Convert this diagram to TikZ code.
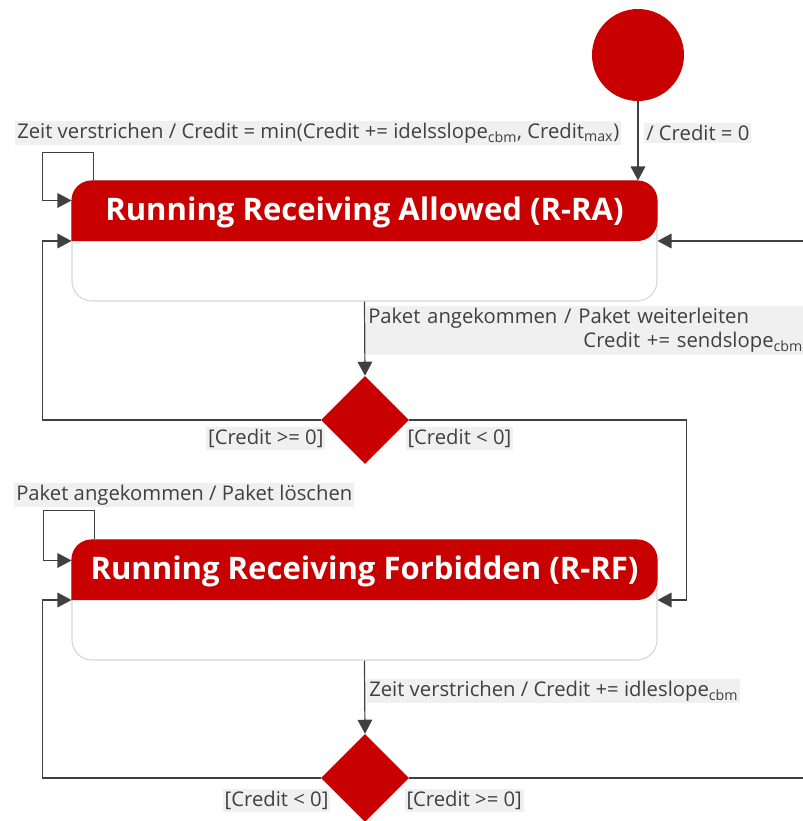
\documentclass[tikz,border=0pt]{standalone}
\usepackage{fontspec}
\setmainfont{Open Sans}
\usepackage{tikz}
\usetikzlibrary{arrows.meta,positioning,shapes.geometric,calc}
\definecolor{StateRed}{RGB}{200,0,0}
\definecolor{LabelGray}{RGB}{240,240,240}
\definecolor{LineGray}{RGB}{64,64,64}
\definecolor{BorderGray}{RGB}{214,214,214}

\begin{document}
\begin{tikzpicture}[
  x=0.75pt, y=-0.75pt,
  state/.style={
    draw=BorderGray,
    rounded corners=15pt,
    fill=white,
    minimum width=438.75pt,
    minimum height=90pt,
    line width=0.8pt
  },
  title/.style={
    text=white,
    font=\fontsize{23.3}{26}\selectfont\bfseries,
    inner sep=0pt
  },
  initial/.style={
    circle,
    fill=StateRed,
    minimum size=69pt,
    inner sep=0pt
  },
  choice/.style={
    diamond,
    fill=StateRed,
    minimum size=66pt,
    inner sep=0pt
  },
  arrow/.style={-{Triangle[length=10.5pt,width=11pt]}, draw=LineGray, line width=0.9pt},
  trans/.style={fill=LabelGray, text=LineGray, inner sep=1.5pt, align=left,
    font=\fontsize{15.2}{18}\selectfont}
]
\useasboundingbox (0,0) rectangle (803,821);

\node[initial] (start) at (638,55) {};

\node[state] (ra) at (364.5,241) {};
\fill[StateRed] (ra.west) [rounded corners=15pt] |- (ra.north) -| (ra.east) [sharp corners] -- cycle;
\node[title] (ra title) at ($(ra.north)!0.5!(ra.center)+(0,2)$) {Running Receiving Allowed (R-RA)};

\node[state] (rf) at (364.5,600) {};
\fill[StateRed] (rf.west) [rounded corners=15pt] |- (rf.north) -| (rf.east) [sharp corners] -- cycle;
\node[title] (rf title) at ($(rf.north)!0.5!(rf.center)+(0,2)$) {Running Receiving Forbidden (R-RF)};

\node[choice] (d1) at (365,420) {};
\node[choice] (d2) at (365,778) {};

\node[trans, anchor=west] (ra loop label) at (15,133)
  {Zeit verstrichen / Credit = min(Credit += idelsslope\textsubscript{cbm}, Credit\textsubscript{max})};
\node[trans, anchor=west] (init label) at (644,133) {/ Credit = 0};
\node[trans, anchor=north west, text width=326pt] (send label) at (366,306)
  {Paket angekommen / Paket weiterleiten\\\mbox{}\hfill Credit += sendslope\textsubscript{cbm}};
\node[trans, anchor=north east] (d1 ge) at ($(d1.west)+(5,7)$) {[Credit >= 0]};
\node[trans, anchor=north west] (d1 lt) at ($(d1.east)+(-4,7)$) {[Credit < 0]};
\node[trans, anchor=west] (rf loop label) at (14,495) {Paket angekommen / Paket löschen};
\node[trans, anchor=west] (idle label) at (367,691)
  {Zeit verstrichen / Credit += idleslope\textsubscript{cbm}};
\node[trans, anchor=north east] (d2 lt) at ($(d2.west)+(10,11)$) {[Credit < 0]};
\node[trans, anchor=north west] (d2 ge) at ($(d2.east)+(-5,11)$) {[Credit >= 0]};

\draw[arrow] (start.south) -- (start.south |- ra.north);
\draw[arrow] ($(ra.north west)+(22,0)$) -- ++(0,-28) -| ($(ra.north west)+(-29,20)$) -- ($(ra.north west)+(0,20)$);
\draw[arrow] (ra.south) -- (d1.north);
\draw[arrow] (d1.west) -| ($(ra.west)+(-29,0)$) -- (ra.west);
\draw[arrow] (d1.east) -| ($(rf.east)+(29,0)$) -- (rf.east);
\draw[arrow] ($(rf.north west)+(23,0)$) -- ++(0,-29) -| ($(rf.north west)+(-28,21)$) -- ($(rf.north west)+(0,21)$);
\draw[arrow] (rf.south) -- (d2.north);
\draw[arrow] (d2.west) -| ($(rf.west)+(-29,0)$) -- (rf.west);
\draw[arrow] (d2.east) -| ($(ra.east)+(160,0)$) -- (ra.east);
\end{tikzpicture}
\end{document}
